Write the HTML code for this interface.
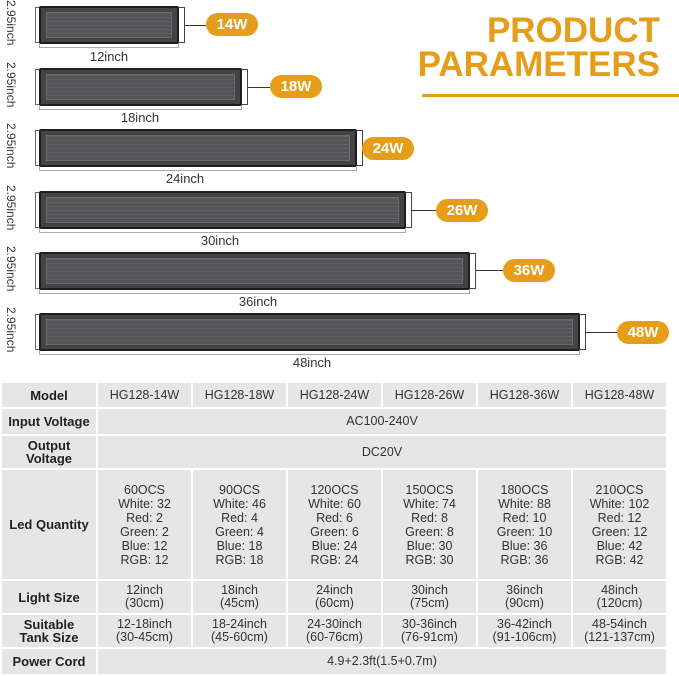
<!DOCTYPE html>
<html><head><meta charset="utf-8"><style>
*{margin:0;padding:0;box-sizing:border-box}
body{width:679px;height:673px;background:#fff;position:relative;overflow:hidden;font-family:"Liberation Sans","DejaVu Sans",sans-serif}
.a{position:absolute}
.light{position:absolute;background:#444446;border:2px solid #1e1e1e;border-radius:2px}
.light::after{content:"";position:absolute;left:5px;right:5px;top:4px;bottom:4px;background:repeating-linear-gradient(#606062 0 1px,#545456 1px 4px);border:1px solid #6a6a6a}
.cap{position:absolute;width:6px;border:1px solid #444;border-left:none;background:#fff}
.capL{position:absolute;width:6px;border:1px solid #666;border-right:none}
.badge{position:absolute;width:52px;height:23px;border-radius:12px;background:#e59d1a;color:#fff;font-weight:bold;font-size:15px;text-align:center;line-height:23px}
.wire{position:absolute;height:1px;background:#333}
.dim{position:absolute;height:4px;border:1px solid #aaa;border-top:none}
.wl{position:absolute;font-size:13px;color:#333;text-align:center}
.vl{position:absolute;font-size:12px;color:#333;transform:rotate(90deg);transform-origin:left top;white-space:nowrap}
.title{position:absolute;color:#e59d1a;font-weight:bold;font-size:35px;right:19px;text-align:right;line-height:34px}
table{position:absolute;left:0;top:381px;width:666px;border-collapse:collapse;table-layout:fixed}
td{background:#e6e6e6;border:2px solid #fff;text-align:center;font-size:12.5px;color:#333;line-height:13px;padding:0}
td.l{line-height:14px}
td.h{font-weight:bold;color:#222;font-size:13px}
</style></head><body>
<div class="title" style="top:14px">PRODUCT</div>
<div class="title" style="top:48px">PARAMETERS</div>
<div class="a" style="left:422px;top:94px;width:257px;height:3px;background:#e59d1a"></div>

<div class="capL" style="left:35px;top:7px;height:36px"></div>
<div class="light" style="left:39px;top:6px;width:140px;height:38px"></div>
<div class="cap" style="left:179px;top:7px;height:36px"></div>
<div class="wire" style="left:185px;top:25px;width:21px"></div>
<div class="badge" style="left:206px;top:13px">14W</div>
<div class="dim" style="left:39px;top:44px;width:140px"></div>
<div class="wl" style="left:79px;top:49px;width:60px">12inch</div>
<div class="vl" style="left:18px;top:0px">2.95inch</div>

<div class="capL" style="left:35px;top:69px;height:36px"></div>
<div class="light" style="left:39px;top:68px;width:203px;height:38px"></div>
<div class="cap" style="left:242px;top:69px;height:36px"></div>
<div class="wire" style="left:248px;top:87px;width:22px"></div>
<div class="badge" style="left:270px;top:75px">18W</div>
<div class="dim" style="left:39px;top:106px;width:203px"></div>
<div class="wl" style="left:110px;top:110px;width:60px">18inch</div>
<div class="vl" style="left:18px;top:62px">2.95inch</div>

<div class="capL" style="left:35px;top:130px;height:36px"></div>
<div class="light" style="left:39px;top:129px;width:318px;height:38px"></div>
<div class="cap" style="left:357px;top:130px;height:36px"></div>
<div class="badge" style="left:362px;top:137px">24W</div>
<div class="dim" style="left:39px;top:167px;width:318px"></div>
<div class="wl" style="left:155px;top:171px;width:60px">24inch</div>
<div class="vl" style="left:18px;top:123px">2.95inch</div>

<div class="capL" style="left:35px;top:192px;height:36px"></div>
<div class="light" style="left:39px;top:191px;width:367px;height:38px"></div>
<div class="cap" style="left:406px;top:192px;height:36px"></div>
<div class="wire" style="left:412px;top:210px;width:24px"></div>
<div class="badge" style="left:436px;top:199px">26W</div>
<div class="dim" style="left:39px;top:229px;width:367px"></div>
<div class="wl" style="left:190px;top:233px;width:60px">30inch</div>
<div class="vl" style="left:18px;top:185px">2.95inch</div>

<div class="capL" style="left:35px;top:253px;height:36px"></div>
<div class="light" style="left:39px;top:252px;width:431px;height:38px"></div>
<div class="cap" style="left:470px;top:253px;height:36px"></div>
<div class="wire" style="left:476px;top:270px;width:27px"></div>
<div class="badge" style="left:503px;top:259px">36W</div>
<div class="dim" style="left:39px;top:290px;width:431px"></div>
<div class="wl" style="left:228px;top:294px;width:60px">36inch</div>
<div class="vl" style="left:18px;top:246px">2.95inch</div>

<div class="capL" style="left:35px;top:314px;height:36px"></div>
<div class="light" style="left:39px;top:313px;width:541px;height:38px"></div>
<div class="cap" style="left:580px;top:314px;height:36px"></div>
<div class="wire" style="left:586px;top:332px;width:31px"></div>
<div class="badge" style="left:617px;top:321px">48W</div>
<div class="dim" style="left:39px;top:351px;width:541px"></div>
<div class="wl" style="left:282px;top:355px;width:60px">48inch</div>
<div class="vl" style="left:18px;top:307px">2.95inch</div>

<table>
<colgroup><col style="width:96px"><col style="width:95px"><col style="width:95px"><col style="width:95px"><col style="width:95px"><col style="width:95px"><col style="width:95px"></colgroup>
<tr style="height:26px"><td class="h">Model</td><td>HG128-14W</td><td>HG128-18W</td><td>HG128-24W</td><td>HG128-26W</td><td>HG128-36W</td><td>HG128-48W</td></tr>
<tr style="height:27px"><td class="h">Input Voltage</td><td colspan="6">AC100-240V</td></tr>
<tr style="height:34px"><td class="h">Output<br>Voltage</td><td colspan="6">DC20V</td></tr>
<tr style="height:111px"><td class="h">Led Quantity</td>
<td class="l">60OCS<br>White: 32<br>Red: 2<br>Green: 2<br>Blue: 12<br>RGB: 12</td>
<td class="l">90OCS<br>White: 46<br>Red: 4<br>Green: 4<br>Blue: 18<br>RGB: 18</td>
<td class="l">120OCS<br>White: 60<br>Red: 6<br>Green: 6<br>Blue: 24<br>RGB: 24</td>
<td class="l">150OCS<br>White: 74<br>Red: 8<br>Green: 8<br>Blue: 30<br>RGB: 30</td>
<td class="l">180OCS<br>White: 88<br>Red: 10<br>Green: 10<br>Blue: 36<br>RGB: 36</td>
<td class="l">210OCS<br>White: 102<br>Red: 12<br>Green: 12<br>Blue: 42<br>RGB: 42</td></tr>
<tr style="height:34px"><td class="h">Light Size</td><td>12inch<br>(30cm)</td><td>18inch<br>(45cm)</td><td>24inch<br>(60cm)</td><td>30inch<br>(75cm)</td><td>36inch<br>(90cm)</td><td>48inch<br>(120cm)</td></tr>
<tr style="height:34px"><td class="h">Suitable<br>Tank Size</td><td>12-18inch<br>(30-45cm)</td><td>18-24inch<br>(45-60cm)</td><td>24-30inch<br>(60-76cm)</td><td>30-36inch<br>(76-91cm)</td><td>36-42inch<br>(91-106cm)</td><td>48-54inch<br>(121-137cm)</td></tr>
<tr style="height:27px"><td class="h">Power Cord</td><td colspan="6">4.9+2.3ft(1.5+0.7m)</td></tr>
</table>
</body></html>
